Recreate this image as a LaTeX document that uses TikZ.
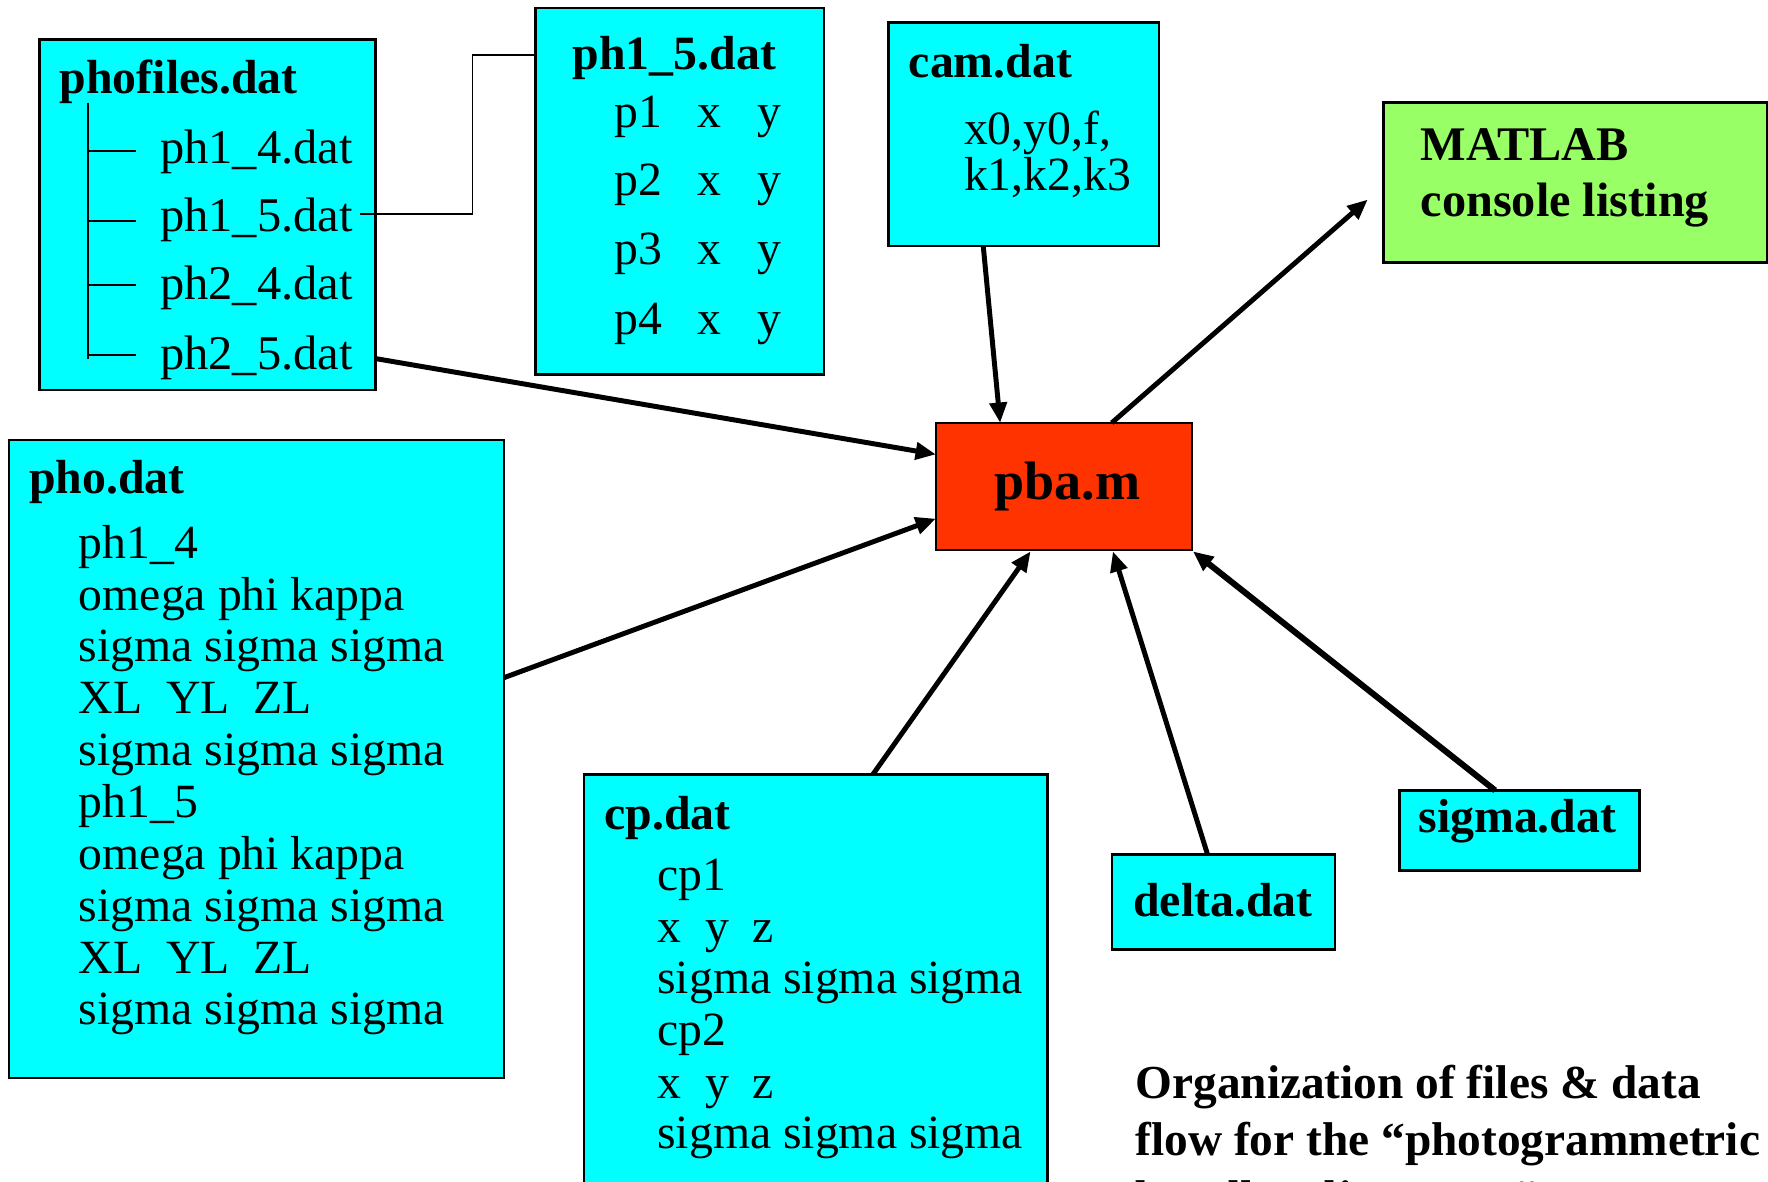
\documentclass[tikz,border=0pt]{standalone}
\usepackage{fontspec}
\setmainfont{Liberation Serif}
\usetikzlibrary{arrows.meta,calc}
\definecolor{cyanbox}{RGB}{0,255,255}
\definecolor{pbared}{RGB}{255,51,0}
\definecolor{matgreen}{RGB}{153,255,102}
\begin{document}
\begin{tikzpicture}[x=1pt,y=-1pt,
  box/.style={draw=black, line width=2.2pt, fill=cyanbox, anchor=north west, inner sep=0pt, outer sep=0pt},
  txt/.style={anchor=base west, inner sep=0pt, outer sep=0pt, font=\fontsize{42.3}{46}\selectfont},
  btxt/.style={anchor=base west, inner sep=0pt, outer sep=0pt, font=\fontsize{42.4}{46}\selectfont\bfseries},
  flow/.style={line width=4.4pt, -{Triangle[length=18pt,width=15pt]}},
  thinline/.style={line width=1.6pt},
]
\useasboundingbox (0,0) rectangle (1568,1048);
\clip (0,0) rectangle (1568,1048);

% ---------- boxes ----------
\node[box, minimum width=298pt, minimum height=311pt] (phofiles) at (35,35) {};
\node[box, minimum width=256pt, minimum height=325pt] (ph15) at (475,7) {};
\node[box, minimum width=240pt, minimum height=198pt] (cam) at (788,20) {};
\node[box, fill=matgreen, minimum width=340pt, minimum height=142pt] (matlab) at (1227,91) {};
\node[box, fill=pbared, minimum width=227pt, minimum height=113pt] (pba) at (830,375) {};
\node[box, minimum width=439pt, minimum height=566pt] (pho) at (8,390) {};
\node[box, minimum width=411pt, minimum height=420pt] (cp) at (518,687) {};
\node[box, minimum width=198pt, minimum height=84pt] (delta) at (986,758) {};
\node[box, minimum width=213pt, minimum height=71pt] (sigma) at (1241,701) {};

% ---------- phofiles.dat ----------
\node[btxt] (phofilesT) at (53,83) {phofiles.dat};
\node[txt, font=\fontsize{43}{46}\selectfont] (f1) at (142,145) {ph1\_4.dat};
\node[txt, font=\fontsize{43}{46}\selectfont] (f2) at (142,205) {ph1\_5.dat};
\node[txt, font=\fontsize{43}{46}\selectfont] (f3) at (142,266) {ph2\_4.dat};
\node[txt, font=\fontsize{43}{46}\selectfont] (f4) at (142,328) {ph2\_5.dat};
\coordinate (treetop) at (78,91);
\coordinate (treebot) at (78,318);
\draw[thinline] (treetop) -- (treebot);
\foreach \yy/\nm in {134/t1,196/t2,253/t3,315/t4}{
  \coordinate (\nm a) at (78,\yy);
  \coordinate (\nm b) at (121,\yy);
  \draw[thinline] (\nm a) -- (\nm b);
}
\coordinate (j1) at (319,190);
\draw[thinline] (j1) -| ($(ph15.north west)+(-56,42)$) -- ($(ph15.north west)+(0,42)$);

% ---------- ph1_5.dat ----------
\node[btxt] (ph15T) at (508,62) {ph1\_5.dat};
\foreach \i/\yy in {1/113,2/173,3/235,4/297}{
  \node[txt] (p\i) at (545,\yy) {p\i};
  \node[txt] (px\i) at (619,\yy) {x};
  \node[txt] (py\i) at (672,\yy) {y};
}

% ---------- cam.dat ----------
\node[btxt] (camT) at (806,69) {cam.dat};
\node[txt] (cam1) at (855,128) {x0,y0,f,};
\node[txt] (cam2) at (855,169) {k1,k2,k3};

% ---------- MATLAB ----------
\node[btxt, font=\fontsize{42.8}{46}\selectfont\bfseries] (mat1) at (1260,142) {MATLAB};
\node[btxt, font=\fontsize{42.8}{46}\selectfont\bfseries] (mat2) at (1260,192) {console listing};

% ---------- pba.m ----------
\node[anchor=base west, inner sep=0pt, font=\fontsize{48}{54}\selectfont\bfseries] (pbaT) at (882,443) {pba.m};

% ---------- pho.dat ----------
\node[btxt] (phoT) at (26,438) {pho.dat};
\foreach \i/\yy/\tx in {1/495/ph1\_4, 2/541/omega phi kappa, 3/587/sigma sigma sigma,
  4/633/XL~~YL~~ZL, 5/679/sigma sigma sigma, 6/725/ph1\_5, 7/771/omega phi kappa,
  8/817/sigma sigma sigma, 9/863/XL~~YL~~ZL, 10/909/sigma sigma sigma}{
  \node[txt] (pho\i) at (70,\yy) {\tx};
}

% ---------- cp.dat ----------
\node[btxt] (cpT) at (536,736) {cp.dat};
\foreach \i/\yy/\tx in {1/790/cp1, 2/836/x~~y~~z, 3/881/sigma sigma sigma,
  4/927/cp2, 5/974/x~~y~~z, 6/1019/sigma sigma sigma}{
  \node[txt] (cp\i) at (583,\yy) {\tx};
}

% ---------- delta / sigma ----------
\node[btxt] (deltaT) at (1005,813) {delta.dat};
\node[btxt] (sigmaT) at (1258,738) {sigma.dat};

% ---------- caption ----------
\node[btxt, font=\fontsize{42}{52}\selectfont\bfseries] (cap1) at (1007,974) {Organization of files \& data};
\node[btxt, font=\fontsize{42}{52}\selectfont\bfseries] (cap2) at (1007,1025) {flow for the “photogrammetric};
\node[btxt, font=\fontsize{42}{52}\selectfont\bfseries] (cap3) at (1007,1076) {bundle adjustment” program};

% ---------- connectors ----------
\draw[flow] ($(phofiles.south east)+(0,-28)$) -- ($(pba.north west)+(0,28)$);
\draw[flow] ($(pho.north east)+(0,211)$) -- ($(pba.north west)+(0,85)$);
\draw[flow] ($(cam.south west)+(84,0)$) -- ($(pba.north west)+(57,0)$);
\coordinate (mtip) at ($(matlab.north west)+(-14,86)$);
\draw[flow] ($(pba.north west)+(156,0)$) -- (mtip);
\draw[flow] ($(cp.north west)+(256,0)$) -- ($(pba.south west)+(84,1)$);
\draw[flow] ($(delta.north west)+(85,0)$) -- ($(pba.south west)+(157,1)$);
\draw[flow, line width=5.4pt] ($(sigma.north west)+(85,0)$) -- ($(pba.south east)+(1,1)$);
\end{tikzpicture}
\end{document}
